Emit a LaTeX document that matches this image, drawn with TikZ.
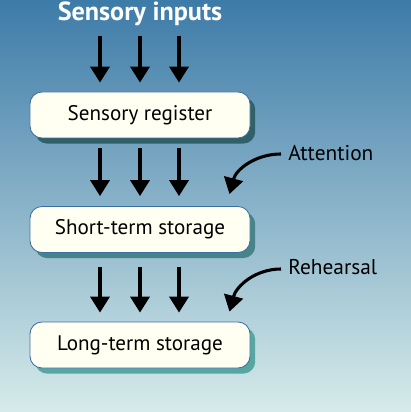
\documentclass[tikz,border=0pt]{standalone}
\usepackage{fontspec}
\setmainfont{PT Sans}
\usepackage{tikz}
\usetikzlibrary{arrows.meta, shadows, calc}
\usepackage{xcolor}
\definecolor{bgtop}{RGB}{61,123,168}
\definecolor{bgmid}{RGB}{132,173,200}
\definecolor{bgbot}{RGB}{214,235,234}
\definecolor{boxfill}{RGB}{255,255,242}
\definecolor{boxline}{RGB}{58,110,160}
\definecolor{shadowa}{RGB}{48,96,104}
\definecolor{shadowb}{RGB}{70,132,138}
\definecolor{shadowc}{RGB}{88,166,162}

\begin{document}
\begin{tikzpicture}[x=0.025cm, y=0.025cm,
    stage/.style={draw=boxline, line width=0.6pt, fill=boxfill, rounded corners=0.3cm,
        minimum width=5.5cm, minimum height=1.15cm, font=\fontsize{15}{17}\selectfont,
        drop shadow={shadow xshift=0.13cm, shadow yshift=-0.14cm, fill=#1, opacity=1}},
    note/.style={font=\fontsize{15.2}{17}\selectfont, anchor=west, inner sep=0pt},
    flow/.style={line width=2.2pt, -{Triangle[width=0.48cm, length=0.4cm]}}]
    % Fundo em degradê
    \shade[top color=bgtop, middle color=bgmid, bottom color=bgbot] (0,0) rectangle (411,412);
    \useasboundingbox (0,0) rectangle (411,412);

    % Título
    \node[text=white, font=\fontsize{18.6}{20}\bfseries\selectfont] (title) at (140,398) {Sensory inputs};

    % Caixas
    \node[stage=shadowa] (sreg) at (140,297) {Sensory register};
    \node[stage=shadowb] (sts) at (140,182.5) {Short-term storage};
    \node[stage=shadowc] (lts) at (140,67) {Long-term storage};

    % Setas verticais
    \foreach \dx in {-40,0,39} {
        \draw[flow] ($(sreg.north)+(\dx,56)$) -- ($(sreg.north)+(\dx,9)$);
        \draw[flow] ($(sreg.south)+(\dx,-10)$) -- ($(sts.north)+(\dx,10)$);
        \draw[flow] ($(sts.south)+(\dx,-14)$) -- ($(lts.north)+(\dx,9)$);
    }

    % Atenção e repetição
    \node[note] (attn) at (288,259) {Attention};
    \node[note] (reh) at (288,145) {Rehearsal};
    \draw[flow] ($(attn.west)+(-7,-1)$) to[out=180, in=75] ($(sts.north east)+(-21,12)$);
    \draw[flow] ($(reh.west)+(-7,-2)$) to[out=180, in=75] ($(lts.north east)+(-21,10)$);
\end{tikzpicture}
\end{document}
